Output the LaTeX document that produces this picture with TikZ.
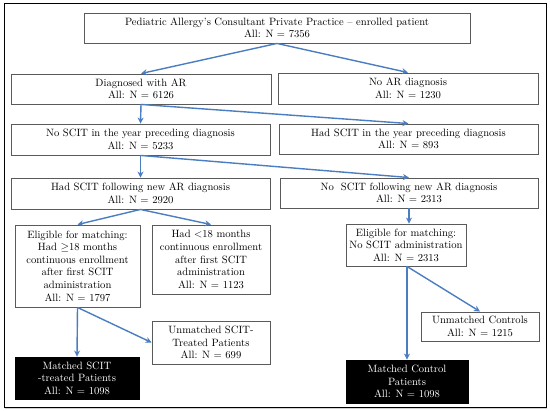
\documentclass[tikz,border=0pt]{standalone}
\usetikzlibrary{arrows.meta}
\definecolor{arrblue}{RGB}{74,126,193}
\definecolor{boxgray}{RGB}{90,90,90}
\tikzset{
  box/.style={draw=boxgray, line width=0.9pt, fill=white, inner sep=0pt, align=center,
    font=\fontsize{10.6}{12.6}\selectfont},
  darkbox/.style={box, fill=black, text=white, draw=black},
  flow/.style={draw=arrblue, line width=1.4pt, -{Stealth[length=6pt,width=6pt]}},
}
\newcommand{\placebox}[7][box]{%
  \node[#1, minimum width={(#5)-(#3)}, minimum height={(#6)-(#4)}] (#2) at ({((#3)+(#5))/2},{((#4)+(#6))/2}) {#7};}
\begin{document}
\begin{tikzpicture}[x=1pt,y=-1pt]
\useasboundingbox (0,0) rectangle (550,411);
\fill[white] (0,0) rectangle (550,411);
\draw[gray!35, line width=1.2pt] (5,408.5) -- (547,408.5);
\draw[black, line width=0.9pt] (4,3) rectangle (546,407);

\placebox{top}{84}{13}{470}{43}{Pediatric Allergy’s Consultant Private Practice -- enrolled patient\\All: N = 7356}
\placebox{diag}{11}{74}{271}{104}{Diagnosed with AR\\All: N = 6126}
\placebox{noar}{278}{73}{538}{104}{No AR diagnosis\\All: N = 1230}
\placebox{noscityr}{11}{124}{270}{155}{No SCIT in the year preceding diagnosis\\All: N = 5233}
\placebox{hadscityr}{279}{124}{538}{154}{Had SCIT in the year preceding diagnosis\\All: N = 893}
\placebox{hadscitf}{11}{178}{270}{209}{Had SCIT following new AR diagnosis\\All: N = 2920}
\placebox{noscitf}{280}{178}{538}{208}{No\ \ SCIT following new AR diagnosis\\All: N = 2313}
\placebox{eligl}{15}{225}{140}{307}{Eligible for matching:\\Had $\geq$18 months\\continuous enrollment\\after first SCIT\\administration\\All: N = 1797}
\placebox{lt}{152}{225}{270}{294}{Had {<}18 months\\continuous enrollment\\after first SCIT\\administration\\All: N = 1123}
\placebox{eligr}{346}{224}{466}{266}{Eligible for matching:\\No SCIT administration\\All: N = 2313}
\placebox{unms}{152}{321}{270}{364}{Unmatched SCIT-\\Treated Patients\\All: N = 699}
\placebox[darkbox]{mats}{15}{357}{139}{399}{Matched SCIT\\-treated Patients\\All: N = 1098}
\placebox{unmc}{421}{312}{539}{341}{Unmatched Controls\\All: N = 1215}
\placebox[darkbox]{matc}{346}{360}{468}{403}{Matched Control\\Patients\\All: N = 1098}

\draw[flow] (top.south) -- (diag.north);
\draw[flow] (top.south) -- (noar.north);
\draw[flow] (diag.south) -- (noscityr.north);
\draw[flow] (diag.south) -- (hadscityr.north);
\draw[flow] (noscityr.south) -- (hadscitf.north);
\draw[flow] (noscityr.south) -- (noscitf.north);
\draw[flow] (hadscitf.south) -- (eligl.north);
\draw[flow] (hadscitf.south) -- (lt.north);
\draw[flow] (noscitf.south) -- (noscitf.south |- eligr.north);
\draw[flow] (eligl.south) -- (mats.north);
\draw[flow] (eligl.south) -- (unms.west);
\draw[flow] (eligr.south -| matc.north) -- (matc.north);
\draw[flow] (eligr.south -| matc.north) -- (unmc.north);
\end{tikzpicture}
\end{document}
